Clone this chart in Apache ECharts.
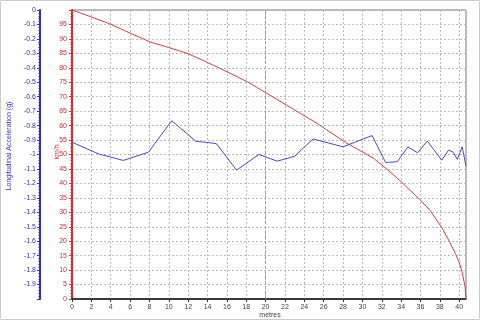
<!DOCTYPE html>
<html>
<head>
<meta charset="utf-8">
<script src="https://cdn.jsdelivr.net/npm/echarts@6/dist/echarts.min.js"></script>
<style>
html,body{margin:0;padding:0;background:#fff;}
#c{width:480px;height:320px;}
</style>
</head>
<body>
<div id="c"></div>
<script>
// Speed (km/h) vs distance (m)
var speedDist = [0, 2, 3.9, 6, 8.1, 10, 11.9, 13.5, 15.3, 18.1, 21.1, 23.0, 25.6, 26.3, 28.4, 31.1, 32.5, 33.8, 34.8, 36.0, 37.0, 38.2, 39.0, 39.6, 40.0, 40.3, 40.6, 40.7];
var speedVals = [100, 97.6, 95.2, 92.0, 88.9, 87.0, 85.0, 82.6, 79.8, 75.2, 69.2, 65.4, 60.2, 58.5, 53.9, 48.8, 45.0, 41.2, 38.0, 34.2, 30.6, 24.7, 19.8, 15.8, 12.6, 9.3, 4.3, 0];
// Longitudinal acceleration (g) vs distance (m)
var accDist = [0, 2.7, 5.3, 7.9, 10.3, 12.8, 14.9, 17.0, 19.3, 21.2, 23.0, 24.9, 28.0, 31.0, 32.4, 33.6, 34.7, 35.7, 36.7, 38.2, 38.9, 39.4, 39.8, 40.3, 40.5, 40.7];
var accVals = [-0.915, -0.995, -1.041, -0.984, -0.766, -0.908, -0.924, -1.108, -1.000, -1.046, -1.012, -0.892, -0.947, -0.869, -1.055, -1.050, -0.947, -0.988, -0.907, -1.039, -0.970, -0.984, -1.034, -0.947, -1.012, -1.079];
var cursorX = 20;

var chart = echarts.init(document.getElementById('c'));
var font = 'Liberation Sans, Arial, sans-serif';
function pairs(xs, ys){ return xs.map(function(x,i){ return [x, ys[i]]; }); }

chart.setOption({
  animation: false,
  backgroundColor: '#fff',
  grid: {left: 72, right: 14, top: 10, bottom: 21, show: true, borderColor: '#777', borderWidth: 1, backgroundColor: '#fff'},
  xAxis: {
    type: 'value', min: 0, max: 40.7, interval: 2,
    axisLine: {show: true, onZero: false, lineStyle: {color: '#111', width: 1.5}},
    axisTick: {show: true, length: 3, lineStyle: {color: '#333'}},
    axisLabel: {fontSize: 7, color: '#444', fontFamily: font, margin: 5, showMaxLabel: false},
    splitLine: {show: true, lineStyle: {color: '#bbb', type: [2, 2], width: 1}}
  },
  yAxis: [
    {
      type: 'value', min: 0, max: 100, interval: 5, position: 'left', offset: 0,
      axisLine: {show: true, lineStyle: {color: '#d03030', width: 2}},
      axisTick: {show: true, length: 3, lineStyle: {color: '#d03030'}},
      minorTick: {show: true, splitNumber: 5, length: 1.5, lineStyle: {color: '#d03030'}},
      axisLabel: {fontSize: 7, color: '#d03030', fontFamily: font, margin: 5, showMaxLabel: false},
      splitLine: {show: true, lineStyle: {color: '#bbb', type: [2, 2], width: 1}}
    },
    {
      type: 'value', min: -2, max: 0, interval: 0.1, position: 'left', offset: 32,
      axisLine: {show: true, lineStyle: {color: '#3030c0', width: 2}},
      axisTick: {show: true, length: 3, lineStyle: {color: '#3030c0'}},
      minorTick: {show: true, splitNumber: 5, length: 1.5, lineStyle: {color: '#3030c0'}},
      axisLabel: {fontSize: 7, color: '#3030c0', fontFamily: font, margin: 4, showMinLabel: false,
        formatter: function(v){ return String(Math.round(v*10)/10); }},
      splitLine: {show: false}
    }
  ],
  graphic: [
    {type: 'text', x: 9, y: 146, rotation: Math.PI/2, style: {text: 'Longitudinal Acceleration (g)', fill: '#3030c0', font: '7px ' + font, textAlign: 'center', textVerticalAlign: 'middle'}},
    {type: 'text', x: 57, y: 152, rotation: Math.PI/2, style: {text: 'km/h', fill: '#d03030', font: '7px ' + font, textAlign: 'center', textVerticalAlign: 'middle'}},
    {type: 'text', x: 270, y: 315, style: {text: 'metres', fill: '#444', font: '7px ' + font, textAlign: 'center', textVerticalAlign: 'middle'}},
    {type: 'rect', shape: {x: 0.5, y: 0.5, width: 479, height: 319}, style: {fill: null, stroke: '#ccc', lineWidth: 1}, silent: true}
  ],
  series: [
    {
      type: 'line', name: 'Speed', xAxisIndex: 0, yAxisIndex: 0,
      data: pairs(speedDist, speedVals), showSymbol: false, smooth: false,
      lineStyle: {color: '#cc4444', width: 1}, itemStyle: {color: '#cc4444'},
      markLine: {silent: true, symbol: 'none', label: {show: false},
        lineStyle: {color: '#e08080', type: [3, 2], width: 1},
        data: [{xAxis: cursorX}]}
    },
    {
      type: 'line', name: 'Acceleration', xAxisIndex: 0, yAxisIndex: 1,
      data: pairs(accDist, accVals), showSymbol: false,
      lineStyle: {color: '#4a4ac0', width: 1}, itemStyle: {color: '#4a4ac0'}
    }
  ]
});
</script>
</body>
</html>
